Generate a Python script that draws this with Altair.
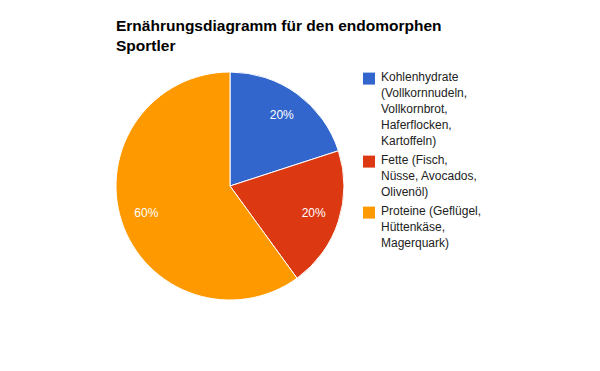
import altair as alt
import pandas as pd

categories = [
    "Kohlenhydrate (Vollkornnudeln, Vollkornbrot, Haferflocken, Kartoffeln)",
    "Fette (Fisch, Nüsse, Avocados, Olivenöl)",
    "Proteine (Geflügel, Hüttenkäse, Magerquark)",
]
label_lines = [
    ["Kohlenhydrate", "(Vollkornnudeln,", "Vollkornbrot,", "Haferflocken,", "Kartoffeln)"],
    ["Fette (Fisch,", "Nüsse, Avocados,", "Olivenöl)"],
    ["Proteine (Geflügel,", "Hüttenkäse,", "Magerquark)"],
]
values = [20, 20, 60]
colors = ["#3366CC", "#DC3912", "#FF9900"]
title_lines = ["Ernährungsdiagramm für den endomorphen", "Sportler"]

FONT = "Liberation Sans, Arial, sans-serif"

df = pd.DataFrame({
    "category": categories,
    "legend": ["\n".join(l) for l in label_lines],
    "value": values,
    "order": list(range(len(categories))),
})

total = sum(values)

base = alt.Chart(df).transform_calculate(
    pct=f"round(datum.value / {total} * 100) + '%'"
).encode(
    theta=alt.Theta("value:Q", stack=True),
    order=alt.Order("order:Q"),
    x=alt.value(222),
    y=alt.value(128),
)

# square symbol shifted down inside its unit box so it lines up with the first label line
square_path = "M-1,0.1H1V2.1H-1Z"

pie = base.mark_arc(radius=114, stroke="white", strokeWidth=1).encode(
    color=alt.Color(
        "legend:N",
        scale=alt.Scale(domain=["\n".join(l) for l in label_lines], range=colors),
        legend=alt.Legend(
            title=None,
            orient="none",
            legendX=355,
            legendY=8,
            symbolType=square_path,
            symbolSize=144,
            symbolStrokeWidth=0,
            labelFont=FONT,
            labelFontSize=12,
            labelColor="#222222",
            labelOffset=6,
            labelBaseline="top",
            labelLimit=300,
            rowPadding=2,
            labelExpr="split(datum.label, '\\n')",
        ),
    )
)

labels = base.mark_text(radius=88, font=FONT, fontSize=12, color="white").encode(
    text="pct:N"
)

chart = alt.layer(pie, labels).properties(
    width=584,
    height=305,
    padding={"left": 0, "top": 50, "right": 0, "bottom": 0},
    autosize=alt.AutoSizeParams(type="none"),
    title=alt.TitleParams(
        text=title_lines,
        anchor="start",
        font=FONT,
        fontSize=15.5,
        fontWeight="bold",
        color="#000000",
        lineHeight=20,
        dx=108,
        offset=4,
    ),
).configure(
    view=alt.ViewConfig(stroke=None),
    style={"guide-label": {"lineHeight": 16}},
)

chart.save("out.html", embed_options={"renderer": "svg", "actions": False})
